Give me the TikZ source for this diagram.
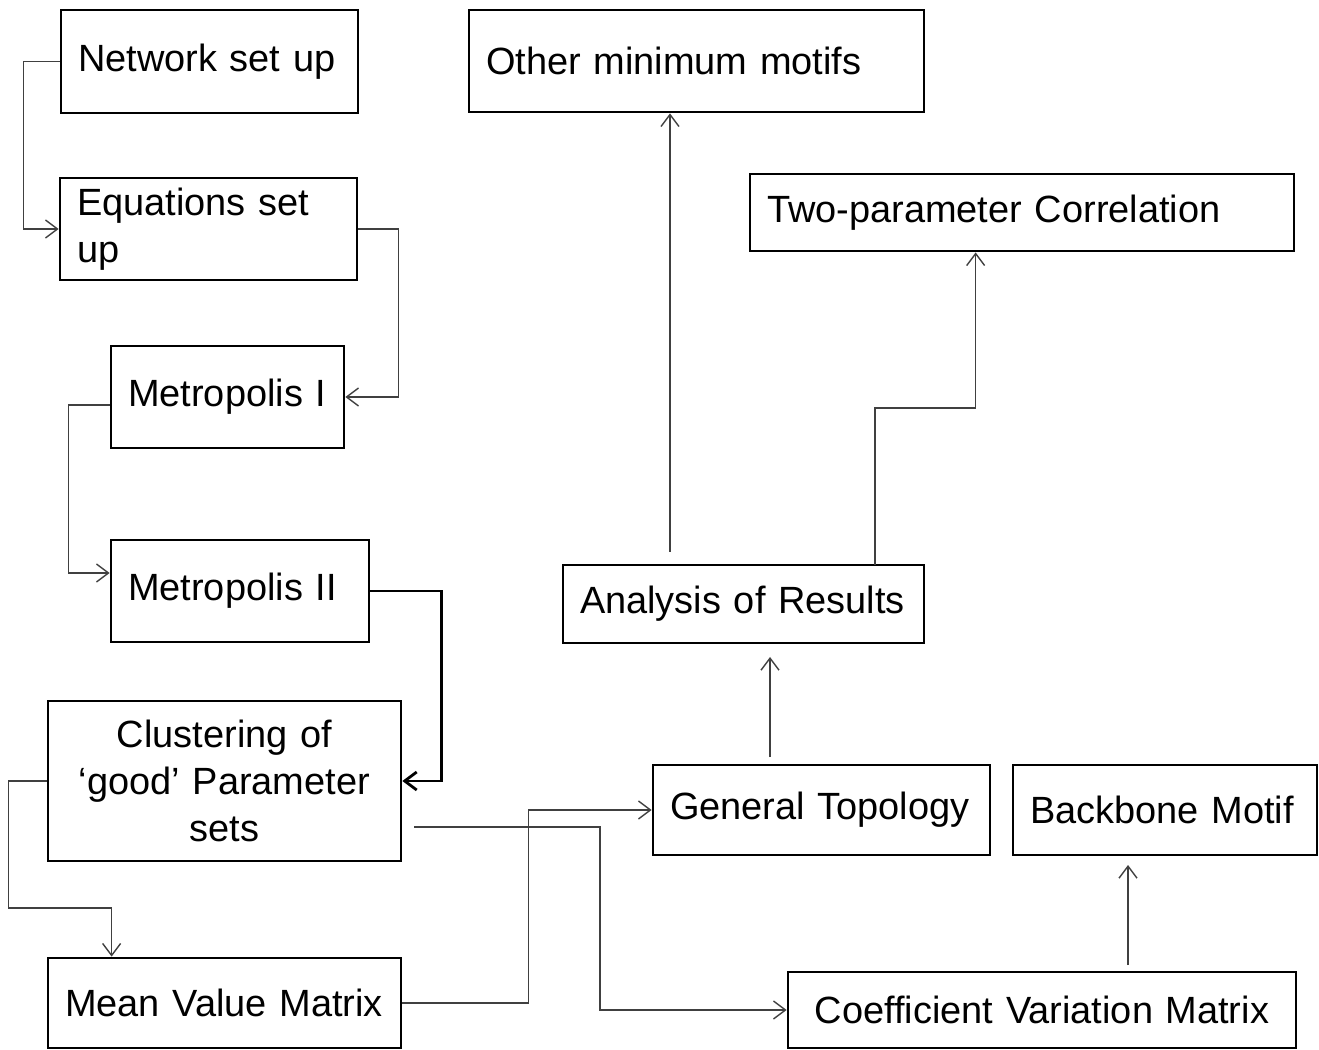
\documentclass[tikz,border=0pt]{standalone}
\usepackage{fontspec}
\setmainfont{Liberation Sans}
\usetikzlibrary{arrows.meta,calc}
\begin{document}
\begin{tikzpicture}[x=0.02cm,y=-0.02cm,
  box/.style={draw=black, line width=1.6pt, rectangle, inner xsep=0.34cm, inner ysep=0pt,
    font=\fontsize{21.6pt}{26.6pt}\selectfont, align=left},
  cbox/.style={box, align=center},
  conn/.style={draw=black!75, line width=0.8pt, -{Straight Barb[length=2.4mm,width=3.6mm]}},
  thickconn/.style={conn, draw=black, line width=1.6pt}
]
\useasboundingbox (0,0) rectangle (1319,1050);

% boxes
\node[box, minimum width=5.94cm, minimum height=2.06cm, text width=5.26cm] (net) at (209.5,61.5) {\mbox{Network set up}};
\node[box, minimum width=5.94cm, minimum height=2.04cm, text width=5.26cm] (eq) at (208.5,229) {\mbox{Equations set}\\up};
\node[box, minimum width=4.66cm, minimum height=2.04cm, text width=3.98cm] (m1) at (227.5,397) {\mbox{Metropolis I}};
\node[box, minimum width=5.16cm, minimum height=2.04cm, text width=4.48cm] (m2) at (240,591) {\mbox{Metropolis II}};
\node[cbox, minimum width=7.06cm, minimum height=3.2cm, text width=6.38cm] (clu) at (224.5,781) {Clustering of\\\mbox{‘good’ Parameter}\\sets};
\node[box, minimum width=7.06cm, minimum height=1.8cm, text width=6.38cm] (mean) at (224.5,1003) {\mbox{Mean Value Matrix}};
\node[box, minimum width=9.1cm, minimum height=2.04cm, text width=8.42cm] (other) at (696.5,61) {\mbox{Other minimum motifs}};
\node[box, minimum width=10.88cm, minimum height=1.54cm, text width=10.2cm] (two) at (1022,212.5) {\mbox{Two-parameter Correlation}};
\node[box, minimum width=7.22cm, minimum height=1.56cm, text width=6.54cm] (ana) at (743.5,604) {\mbox{Analysis of Results}};
\node[box, minimum width=6.74cm, minimum height=1.8cm, text width=6.06cm] (gen) at (821.5,810) {\mbox{General Topology}};
\node[box, minimum width=6.08cm, minimum height=1.8cm, text width=5.4cm] (back) at (1165,810) {\mbox{Backbone Motif}};
\node[cbox, minimum width=10.16cm, minimum height=1.52cm, text width=9.48cm] (coef) at (1042,1010) {\mbox{Coefficient Variation Matrix}};

% free ends
\coordinate (cluout) at (414,827);
\coordinate (g1) at (770,757);
\coordinate (a1) at (770,657);
\coordinate (a2) at (670,552);
\coordinate (a3) at (875,565);
\coordinate (c1) at (1128,965);
\coordinate (b1) at (1128,865);

% connectors
\draw[conn] (net.west) -- ++(-36,0) |- (eq.west);
\draw[conn] (eq.east) -- ++(40,0) |- (m1.east);
\draw[conn] ($(m1.west)+(0,8)$) -- ++(-41,0) |- ($(m2.west)+(0,-18)$);
\draw[thickconn] (m2.east) -- ++(71,0) |- (clu.east);
\draw[conn] (clu.west) -- ++(-38,0) -- ++(0,127) -| ($(mean.north west)+(65,0)$);
\draw[conn] (mean.east) -- ++(126,0) |- (gen.west);
\draw[conn] (cluout) -- ++(186,0) |- (coef.west);
\draw[conn] (g1) -- (a1);
\draw[conn] (a2) -- (a2 |- other.south);
\draw[conn] (a3) -- ++(0,-157) -| ($(two.south west)+(227,0)$);
\draw[conn] (c1) -- (b1);
\end{tikzpicture}
\end{document}
